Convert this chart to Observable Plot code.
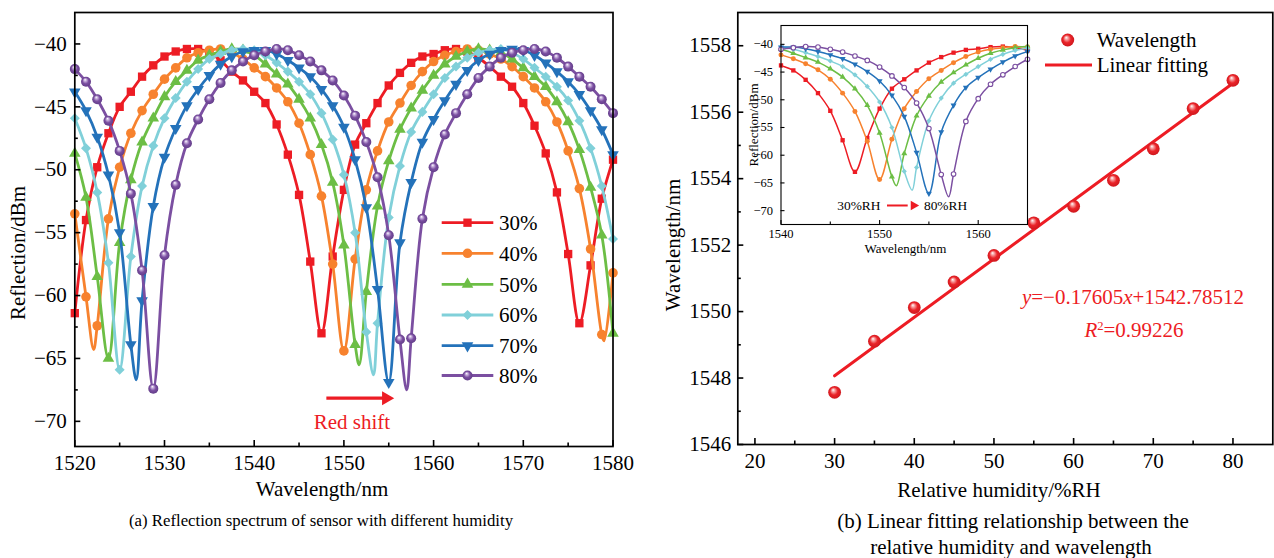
<!DOCTYPE html>
<html><head><meta charset="utf-8">
<script src="https://cdn.jsdelivr.net/npm/d3@7"></script>
<script src="https://cdn.jsdelivr.net/npm/@observablehq/plot@0.6"></script>
<style>
html,body{margin:0;padding:0;background:#fff;}
#root{position:relative;width:1274px;height:558px;overflow:hidden;font-family:"Liberation Serif","Times New Roman",serif;color:#000;}
.lbl{position:absolute;white-space:nowrap;line-height:1;transform:translate(-50%,-50%);}
.rot{transform:translate(-50%,-50%) rotate(-90deg);}
#root svg{position:absolute;font-family:"Liberation Serif","Times New Roman",serif;}
#root svg text{font-family:"Liberation Serif","Times New Roman",serif;}
</style></head><body><div id="root"></div>
<script>
// ---------------- DATA ----------------
const wavelengthGrid = [1520,1521.25,1522.5,1523.75,1525,1526.25,1527.5,1528.75,1530,1531.25,1532.5,1533.75,1535,1536.25,1537.5,1538.75,1540,1541.25,1542.5,1543.75,1545,1546.25,1547.5,1548.75,1550,1551.25,1552.5,1553.75,1555,1556.25,1557.5,1558.75,1560,1561.25,1562.5,1563.75,1565,1566.25,1567.5,1568.75,1570,1571.25,1572.5,1573.75,1575,1576.25,1577.5,1578.75,1580];
const humidityLevels = ["30%","40%","50%","60%","70%","80%"];
const refl30 = [-61.4,-54.0,-49.8,-47.1,-45.0,-43.8,-42.6,-41.7,-41.0,-40.6,-40.4,-40.4,-40.7,-41.3,-42.2,-42.9,-43.8,-44.7,-46.4,-48.8,-52.0,-57.3,-63.0,-56.9,-51.6,-48.0,-46.3,-44.7,-43.3,-42.3,-41.5,-41.0,-40.8,-40.5,-40.4,-40.6,-41.1,-41.8,-42.6,-43.4,-44.7,-46.5,-48.7,-51.8,-56.7,-62.2,-57.6,-52.3,-49.2];
const refl40 = [-53.5,-60.1,-62.4,-53.9,-49.8,-47.1,-45.3,-44.0,-42.8,-41.9,-41.1,-40.7,-40.5,-40.4,-40.7,-41.2,-41.9,-42.6,-43.5,-44.6,-46.3,-48.8,-52.1,-57.5,-64.4,-57.1,-51.6,-48.5,-46.2,-44.7,-43.3,-42.2,-41.4,-40.9,-40.6,-40.4,-40.5,-40.8,-41.2,-41.8,-42.6,-43.5,-44.6,-46.2,-48.5,-51.5,-56.3,-63.1,-58.2];
const refl50 = [-48.7,-52.2,-58.5,-65.0,-55.8,-50.8,-47.8,-45.9,-44.2,-43.0,-42.1,-41.3,-40.9,-40.6,-40.4,-40.5,-40.9,-41.6,-42.4,-43.2,-44.4,-45.9,-48.0,-51.0,-56.0,-63.9,-59.7,-52.9,-49.3,-46.8,-45.1,-43.7,-42.5,-41.6,-41.0,-40.6,-40.4,-40.5,-40.7,-41.2,-41.9,-42.6,-43.4,-44.6,-46.2,-48.4,-51.4,-55.2,-63.0];
const refl60 = [-45.9,-48.3,-51.8,-57.4,-65.9,-56.9,-51.3,-48.1,-45.9,-44.3,-43.0,-42.0,-41.2,-40.8,-40.5,-40.4,-40.5,-40.9,-41.5,-42.2,-43.0,-44.0,-45.5,-47.6,-50.4,-55.0,-62.9,-62.2,-53.8,-49.7,-47.0,-45.4,-44.0,-42.7,-41.8,-41.1,-40.7,-40.5,-40.4,-40.7,-41.2,-41.9,-42.6,-43.4,-44.5,-46.1,-48.3,-51.3,-55.5];
const refl70 = [-43.8,-45.3,-47.4,-50.4,-55.0,-63.9,-60.4,-52.9,-49.0,-46.7,-44.9,-43.6,-42.5,-41.6,-41.0,-40.6,-40.5,-40.5,-40.8,-41.3,-41.9,-42.6,-43.6,-44.9,-46.6,-49.2,-53.0,-59.5,-66.9,-55.8,-51.0,-47.8,-46.0,-44.5,-43.2,-42.1,-41.3,-40.8,-40.5,-40.4,-40.5,-40.9,-41.5,-42.2,-43.0,-44.0,-45.3,-46.8,-48.8];
const refl80 = [-42.0,-43.0,-44.4,-46.1,-48.5,-51.9,-58.0,-67.4,-56.8,-51.2,-47.9,-46.0,-44.4,-43.1,-42.1,-41.4,-40.9,-40.6,-40.4,-40.5,-40.9,-41.4,-42.1,-42.9,-44.1,-45.7,-47.8,-50.6,-55.2,-63.5,-63.4,-53.9,-49.8,-47.2,-45.5,-44.0,-42.7,-41.8,-41.1,-40.7,-40.5,-40.4,-40.6,-41.1,-41.8,-42.6,-43.4,-44.4,-45.5];
// curve minima between markers (line only)
const dip30 = [];
const dip40 = [[1522.1,-64.3],[1579.0,-63.6]];
const dip50 = [[1551.7,-65.5]];
const dip60 = [[1553.3,-66.3]];
const dip70 = [[1526.85,-66.7]];
const dip80 = [[1557.0,-67.5]];
// panel (b)
const relativeHumidity = [30,35,40,45,50,55,60,65,70,75,80];
const resonantWavelength = [1547.57,1549.11,1550.12,1550.89,1551.69,1552.67,1553.17,1553.95,1554.90,1556.11,1556.96];
const fitSlope = 0.17605, fitIntercept = 1542.78512;
// ticks
const xTicksA = [1520,1530,1540,1550,1560,1570,1580];
const xMinorA = [1525,1535,1545,1555,1565,1575];
const yTicksA = [-40,-45,-50,-55,-60,-65,-70];
const yMinorA = [-42.5,-47.5,-52.5,-57.5,-62.5,-67.5];
const xTicksB = [20,30,40,50,60,70,80];
const xMinorB = [25,35,45,55,65,75];
const yTicksB = [1546,1548,1550,1552,1554,1556,1558];
const yMinorB = [1547,1549,1551,1553,1555,1557];
const xTicksIn = [1540,1550,1560];
const xMinorIn = [1545,1555];
const yTicksIn = [-40,-45,-50,-55,-60,-65,-70];

// ---------------- STYLE ----------------
const FONT = '"Liberation Serif","Times New Roman",serif';
const RED = "#ED1C24";
const colors = ["#ED1C24","#F7822E","#6CBE45","#80D0D9","#2472BA","#7B4FA1"];
const symbols = ["square","circle","triangle","square","triangle","circle"];
const rotates = [0,0,0,45,180,0];
const rSizes = [4.7,4.8,4.3,4.0,4.3,5.0];
const spectra = [refl30,refl40,refl50,refl60,refl70,refl80];
const dips = [dip30,dip40,dip50,dip60,dip70,dip80];
const fills = colors.map((c,i)=> i===5 ? "url(#gPurple)" : c);

const root = document.getElementById("root");
root.insertAdjacentHTML("beforeend", `<svg width="0" height="0" style="position:absolute"><defs>
<radialGradient id="gRed" cx="50%" cy="50%" r="55%" fx="38%" fy="30%"><stop offset="0%" stop-color="#ffffff"/><stop offset="22%" stop-color="#f7a3a3"/><stop offset="55%" stop-color="#ea2429"/><stop offset="100%" stop-color="#c9151b"/></radialGradient>
<radialGradient id="gPurple" cx="50%" cy="50%" r="55%" fx="40%" fy="28%"><stop offset="0%" stop-color="#ffffff"/><stop offset="22%" stop-color="#c8b0dd"/><stop offset="55%" stop-color="#7b4fa1"/><stop offset="100%" stop-color="#5e3a85"/></radialGradient>
</defs></svg>`);

const markerRows = spectra.map((arr,s)=>arr.map((v,i)=>({rh:humidityLevels[s], wl:wavelengthGrid[i], refl:v})));
const lineRows = spectra.map((arr,s)=>markerRows[s].concat(dips[s].map(([w,v])=>({rh:humidityLevels[s], wl:w, refl:v}))).sort((a,b)=>a.wl-b.wl));

const neg = d => d < 0 ? "\u2212" + Math.abs(d) : String(d);
const blank = () => "";
const baseStyle = fs => ({fontFamily: FONT, fontSize: fs, color: "#000", background: "transparent", overflow: "visible"});

// ---------------- PANEL (a) ----------------
const left = Plot.plot({
  width: 630, height: 470,
  marginLeft: 74.3, marginRight: 17.5, marginTop: 12, marginBottom: 24,
  x: {domain: [1520,1580], label: null},
  y: {domain: [-72,-37.5], label: null},
  style: baseStyle("21px"),
  marks: [
    ...spectra.flatMap((_,s)=>[
      Plot.line(lineRows[s], {x:"wl", y:"refl", stroke: colors[s], strokeWidth: 2.8, curve: "catmull-rom"}),
      Plot.dot(markerRows[s], {x:"wl", y:"refl", symbol: symbols[s], rotate: rotates[s], r: rSizes[s], fill: fills[s], stroke: "none"})
    ]),
    Plot.ruleY([-68.16], {x1: 1548.1, x2: 1554.8, stroke: RED, strokeWidth: 3.2}),
    Plot.dot([-68.16], {x: 1555.6, y: d=>d, symbol: "triangle", rotate: 90, r: 5.2, fill: RED, dx: -8}),
    Plot.text(["Red shift"], {x: 1550.9, y: -70.05, text: d=>d, fill: RED, fontSize: 21, fontFamily: FONT}),
    Plot.frame({stroke: "#000", strokeWidth: 1.7}),
    Plot.axisX({ticks: xTicksA, tickSize: -6, tickPadding: 15, tickFormat: d=>String(d), strokeWidth: 1.6, fontSize: 21, fontFamily: FONT}),
    Plot.axisX({ticks: xMinorA, tickSize: -3.5, tickFormat: blank, strokeWidth: 1.6}),
    Plot.axisY({ticks: yTicksA, tickSize: -6, tickPadding: 14, tickFormat: neg, strokeWidth: 1.6, fontSize: 21, fontFamily: FONT}),
    Plot.axisY({ticks: yMinorA, tickSize: -3.5, tickFormat: blank, strokeWidth: 1.6})
  ]
});
left.style.left = "0px"; left.style.top = "0px";
root.appendChild(left);

// ---------------- PANEL (b) ----------------
const measured = relativeHumidity.map((h,i)=>({rh:h, wl:resonantWavelength[i]}));
const fitLine = d3.extent(relativeHumidity).map(h=>({rh:h, wl: fitSlope*h + fitIntercept}));
const right = Plot.plot({
  width: 634, height: 470,
  marginLeft: 97.3, marginRight: 1.7, marginTop: 12, marginBottom: 26,
  x: {domain: [17.85,85], label: null},
  y: {domain: [1546,1559], label: null},
  style: baseStyle("21px"),
  marks: [
    Plot.line(fitLine, {x:"rh", y:"wl", stroke: RED, strokeWidth: 3}),
    Plot.dot(measured, {x:"rh", y:"wl", r: 6.4, fill: "url(#gRed)", stroke: "none"}),
    Plot.frame({stroke: "#000", strokeWidth: 1.7}),
    Plot.axisX({ticks: xTicksB, tickSize: -6, tickPadding: 15, tickFormat: d=>String(d), strokeWidth: 1.6, fontSize: 21, fontFamily: FONT}),
    Plot.axisX({ticks: xMinorB, tickSize: -3.5, tickFormat: blank, strokeWidth: 1.6}),
    Plot.axisY({ticks: yTicksB, tickSize: -6, tickPadding: 12.5, tickFormat: d=>String(d), strokeWidth: 1.6, fontSize: 21, fontFamily: FONT}),
    Plot.axisY({ticks: yMinorB, tickSize: -3.5, tickFormat: blank, strokeWidth: 1.6})
  ]
});
right.style.left = "640px"; right.style.top = "0px";
root.appendChild(right);

// ---------------- INSET ----------------
const inRange = r => r.wl >= 1540 && r.wl <= 1565;
const inset = Plot.plot({
  width: 300, height: 246,
  marginLeft: 50.5, marginRight: 3, marginTop: 7, marginBottom: 40,
  x: {domain: [1540,1565], label: null},
  y: {domain: [-72.5,-36.6], label: null},
  style: baseStyle("12.5px"),
  marks: [
    Plot.frame({fill: "#fff", stroke: "none"}),
    ...spectra.flatMap((_,s)=>[
      Plot.line(lineRows[s], {x:"wl", y:"refl", stroke: colors[s], strokeWidth: 1.5, curve: "catmull-rom", clip: true}),
      Plot.dot(markerRows[s].filter(inRange), {x:"wl", y:"refl", symbol: symbols[s], rotate: rotates[s], r: s===5 ? 2.3 : rSizes[s]*0.52, fill: s===5 ? "#fff" : colors[s], stroke: s===5 ? colors[s] : "none", strokeWidth: 1.1})
    ]),
    Plot.text(["30%RH"], {x: 1547.9, y: -69.07, text: d=>d, fontSize: 13.4, fontFamily: FONT}),
    Plot.ruleY([-69.07], {x1: 1550.8, x2: 1552.9, stroke: RED, strokeWidth: 2}),
    Plot.dot([-69.07], {x: 1554.0, y: d=>d, symbol: "triangle", rotate: 90, r: 3.6, fill: RED, dx: -5.5}),
    Plot.text(["80%RH"], {x: 1554.5, y: -69.07, text: d=>d, textAnchor: "start", fontSize: 13.4, fontFamily: FONT}),
    Plot.frame({stroke: "#000", strokeWidth: 1.1}),
    Plot.axisX({ticks: xTicksIn, tickSize: -4, tickPadding: 9, tickFormat: d=>String(d), strokeWidth: 1.1, fontFamily: FONT}),
    Plot.axisX({ticks: xMinorIn, tickSize: -2.5, tickFormat: blank, strokeWidth: 1.1}),
    Plot.axisY({ticks: yTicksIn, tickSize: -4, tickPadding: 12, tickFormat: neg, strokeWidth: 1.1, fontFamily: FONT})
  ]
});
inset.style.left = "730px"; inset.style.top = "18px";
root.appendChild(inset);

// ---------------- LEGENDS / LABELS (overlay) ----------------
const ov = d3.select(root).append("svg").attr("width",1274).attr("height",558)
  .style("left","0px").style("top","0px").style("pointer-events","none")
  .attr("font-family", FONT);
const legY = [222.7,253.3,284.3,315,345.7,375.5];
const d3sym = {square: d3.symbolSquare, circle: d3.symbolCircle, triangle: d3.symbolTriangle};
humidityLevels.forEach((h,s)=>{
  const g = ov.append("g");
  g.append("line").attr("x1",441.7).attr("x2",493.3).attr("y1",legY[s]).attr("y2",legY[s]).attr("stroke",colors[s]).attr("stroke-width",2.8);
  g.append("path").attr("d", d3.symbol(d3sym[symbols[s]], Math.PI*rSizes[s]*rSizes[s])())
    .attr("transform",`translate(467.5,${legY[s]}) rotate(${rotates[s]})`).attr("fill", fills[s]);
  g.append("text").attr("x",499).attr("y",legY[s]).attr("dy","0.35em").attr("font-size",21).attr("font-family",FONT).text(h);
});
// panel b legend
ov.append("circle").attr("cx",1067.7).attr("cy",40).attr("r",6.5).attr("fill","url(#gRed)");
ov.append("text").attr("x",1096.7).attr("y",40).attr("dy","0.35em").attr("font-size",21).attr("font-family",FONT).text("Wavelength");
ov.append("line").attr("x1",1045).attr("x2",1092).attr("y1",65).attr("y2",65).attr("stroke",RED).attr("stroke-width",3);
ov.append("text").attr("x",1096.7).attr("y",65).attr("dy","0.35em").attr("font-size",21).attr("font-family",FONT).text("Linear fitting");

const labels = [
  {t:"Reflection/dBm", x:18, y:253, fs:21, rot:true},
  {t:"Wavelength/nm", x:322, y:489, fs:21},
  {t:"(a) Reflection spectrum of sensor with different humidity", x:321, y:521, fs:16.8},
  {t:"Wavelength/nm", x:673, y:244.5, fs:21, rot:true},
  {t:"Relative humidity/%RH", x:999, y:490, fs:21},
  {t:"(b) Linear fitting relationship between the", x:1013, y:521, fs:21},
  {t:"relative humidity and wavelength", x:1011, y:547, fs:21},
  {t:"Reflection/dBm", x:752.5, y:125, fs:13, rot:true},
  {t:"Wavelength/nm", x:905.5, y:248, fs:13},
  {h:'<i>y</i>=\u22120.17605<i>x</i>+1542.78512', x:1133, y:297, fs:21, c:RED},
  {h:'<i>R</i><sup style="font-size:0.6em;vertical-align:0.55em">2</sup>=0.99226', x:1134, y:330, fs:21, c:RED}
];
labels.forEach(l=>{
  const d = document.createElement("div");
  d.className = "lbl" + (l.rot ? " rot" : "");
  d.style.left = l.x + "px"; d.style.top = l.y + "px"; d.style.fontSize = l.fs + "px";
  if (l.c) d.style.color = l.c;
  if (l.h) d.innerHTML = l.h; else d.textContent = l.t;
  root.appendChild(d);
});
</script></body></html>
